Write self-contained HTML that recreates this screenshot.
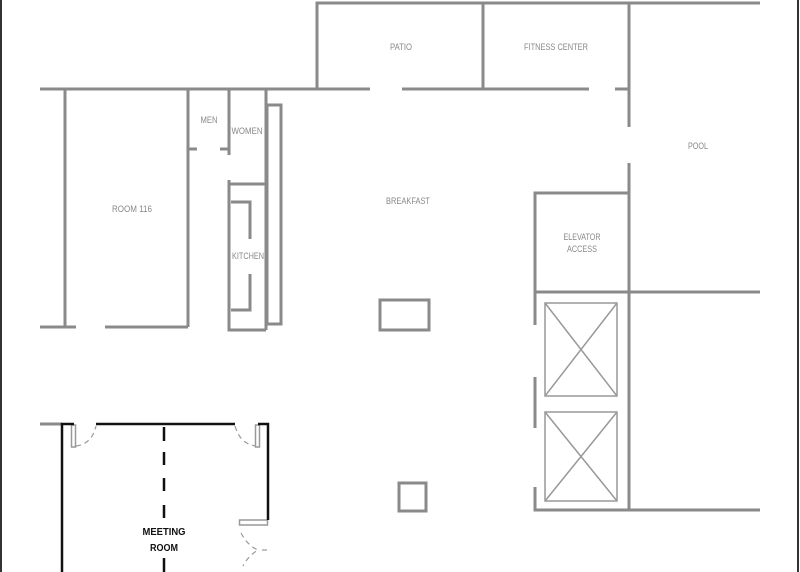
<!DOCTYPE html>
<html><head><style>
html,body{margin:0;padding:0;background:#fff;}
svg{display:block;}
text{font-family:"Liberation Sans",sans-serif;font-size:9px;fill:#888;text-anchor:middle;}
</style></head><body>
<svg width="800" height="572" viewBox="0 0 800 572" xmlns="http://www.w3.org/2000/svg">
<rect width="800" height="572" fill="#fff"/>
<line x1="1" y1="0" x2="1" y2="572" stroke="#333" stroke-width="2"/>
<line x1="798" y1="0" x2="798" y2="572" stroke="#333" stroke-width="2"/>
<g stroke="#8a8a8a" stroke-width="3" fill="none">
<path d="M317 89 V3 H760"/>
<path d="M483 3 V89"/>
<path d="M629 3 V127"/>
<path d="M615 89 H629"/>
<path d="M40 89 H370 M402 89 H589"/>
<path d="M65 89 V327"/>
<path d="M188 89 V327"/>
<path d="M40 327 H76 M105 327 H188"/>
<path d="M188 149 H197 M220 149 H229"/>
<path d="M229 89 V155 M229 180 V330 H266"/>
<path d="M266 89 V330"/>
<path d="M229 184 H266"/>
<path d="M231 202 H250 V239 M250 274 V310 H231"/>
<rect x="267" y="105" width="14" height="219"/>
<path d="M629 163 V510"/>
<path d="M535 325 V193 H629"/>
<path d="M535 292 H760"/>
<path d="M535 377 V428 M535 487 V510 H760"/>
<rect x="380" y="300" width="49" height="30"/>
<rect x="399" y="483" width="27" height="28"/>
<path d="M40 424 H62"/>
</g>
<g stroke="#999" stroke-width="1.5" fill="none">
<rect x="545" y="303" width="72" height="93"/>
<rect x="545" y="412" width="72" height="89"/>
<path d="M545 303 L617 396 M617 303 L545 396 M545 412 L617 501 M617 412 L545 501"/>
<rect x="71.5" y="425" width="4" height="22"/>
<rect x="255.5" y="425" width="4" height="22"/>
<rect x="239.5" y="520" width="28" height="5"/>
</g>
<g stroke="#111" stroke-width="2.5" fill="none">
<path d="M62 572 V424 H74"/>
<path d="M96 424 H235"/>
<path d="M258 424 H268 V520"/>
<path d="M164 427 V441 M164 452 V465 M164 478 V491 M164 505 V518 M164 558 V572"/>
</g>
<g stroke="#999" stroke-width="1.2" fill="none" stroke-dasharray="5,4">
<path d="M76 446 Q92 444 96 426"/>
<path d="M235 426 Q240 444 256 446"/>
<path d="M241 533 Q248 546 258 550 Q248 556 243 566"/>
<path d="M262 550 H268"/>
</g>
<text x="401" y="50" textLength="22" lengthAdjust="spacingAndGlyphs">PATIO</text>
<text x="556" y="50" textLength="64" lengthAdjust="spacingAndGlyphs">FITNESS CENTER</text>
<text x="698" y="149" textLength="20" lengthAdjust="spacingAndGlyphs">POOL</text>
<text x="408" y="204" textLength="44" lengthAdjust="spacingAndGlyphs">BREAKFAST</text>
<text x="132" y="212" textLength="40" lengthAdjust="spacingAndGlyphs">ROOM 116</text>
<text x="209" y="123" textLength="17" lengthAdjust="spacingAndGlyphs">MEN</text>
<text x="247" y="134" textLength="31" lengthAdjust="spacingAndGlyphs">WOMEN</text>
<text x="248" y="259" textLength="32" lengthAdjust="spacingAndGlyphs">KITCHEN</text>
<text x="582" y="240" textLength="37" lengthAdjust="spacingAndGlyphs">ELEVATOR</text>
<text x="582" y="252" textLength="30" lengthAdjust="spacingAndGlyphs">ACCESS</text>
<text x="164" y="535" textLength="43" lengthAdjust="spacingAndGlyphs" style="fill:#111;font-weight:bold;font-size:10px">MEETING</text>
<text x="164" y="551" textLength="28" lengthAdjust="spacingAndGlyphs" style="fill:#111;font-weight:bold;font-size:10px">ROOM</text>
</svg>
</body></html>
